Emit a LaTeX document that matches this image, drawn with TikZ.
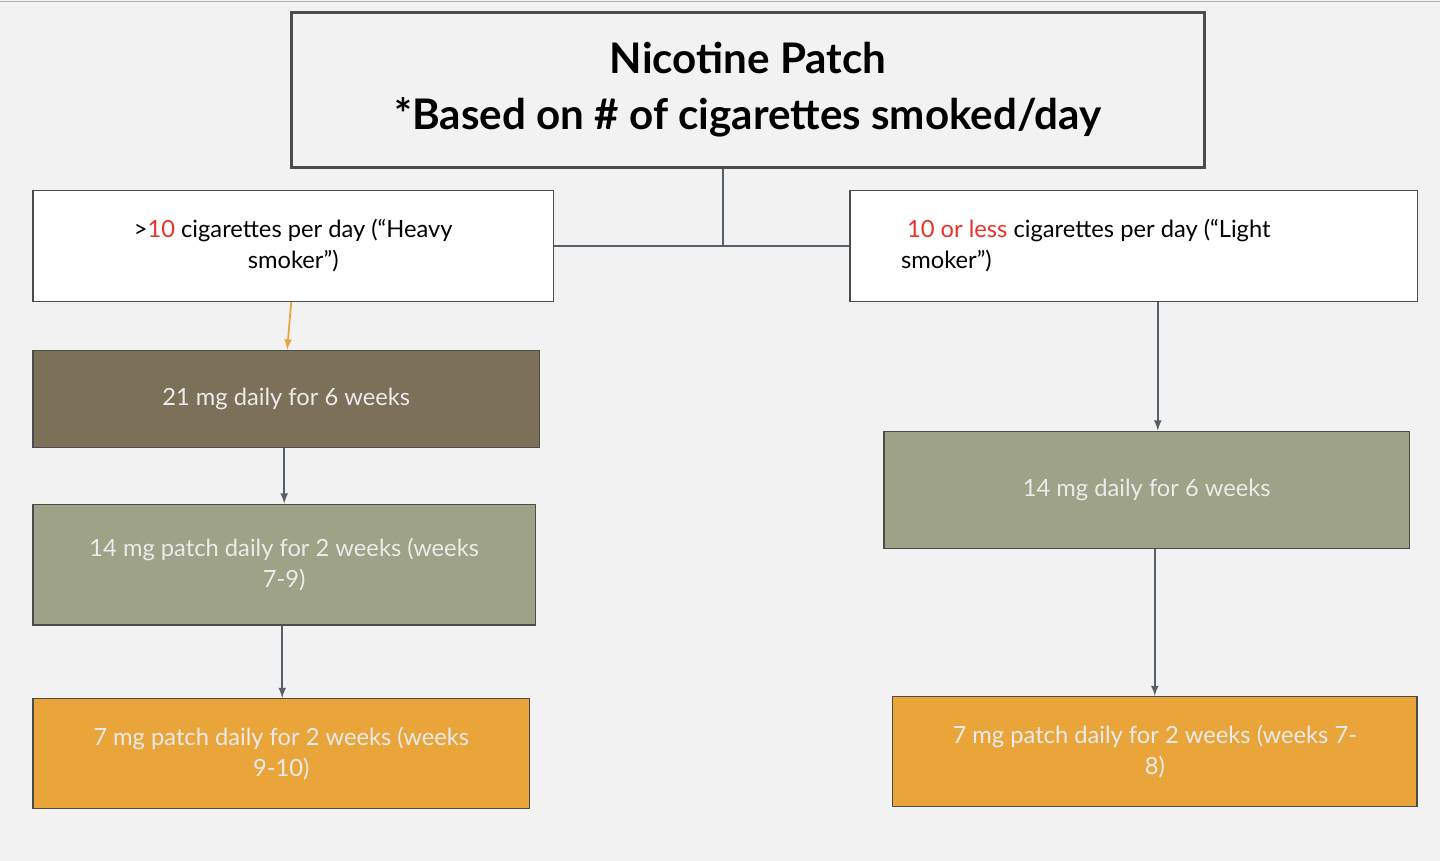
\documentclass[tikz,border=0pt]{standalone}
\usepackage{fontspec}
\setmainfont{Lato}
\usetikzlibrary{positioning}
\definecolor{bgc}{HTML}{F2F2F2}
\definecolor{brownbox}{HTML}{7B7158}
\definecolor{sagebox}{HTML}{9EA287}
\definecolor{orangebox}{HTML}{E9A43A}
\definecolor{linec}{HTML}{56606A}
\definecolor{redtxt}{HTML}{E8332A}
\tikzset{
  plan/.style={draw=black!70, line width=0.8pt, align=center, inner sep=4pt, font=\fontsize{13.5}{17.5}\selectfont},
  dose/.style={plan, text=white!92!black},
  link/.style={->, draw=linec, line width=1pt, >=latex}
}
\begin{document}
\begin{tikzpicture}[x=0.02cm,y=-0.02cm]
   \fill[bgc] (0,0) rectangle (1440,861);
   \draw[gray!60] (0,1) -- (1440,1);
   \node[plan, line width=1.5pt, fill=bgc, minimum width=18.26cm, minimum height=3.1cm, font=\fontsize{24}{32}\selectfont\bfseries] (title) at (748,90)
      {Nicotine Patch\\*Based on \# of cigarettes smoked/day};
   \node[plan, fill=white, minimum width=10.42cm, minimum height=2.22cm] (heavy) at (293,246)
      {>\textcolor{redtxt}{10} cigarettes per day (“Heavy\\smoker”)};
   \node[plan, fill=white, minimum width=11.36cm, minimum height=2.22cm, align=left] (light) at (1134,246)
      {\ \textcolor{redtxt}{10 or less} cigarettes per day (“Light\\smoker”)\hspace*{7.5cm}};
   \node[dose, fill=brownbox, minimum width=10.14cm, minimum height=1.94cm] (hA) at (286,399) {21 mg daily for 6 weeks};
   \node[dose, fill=sagebox, minimum width=10.06cm, minimum height=2.42cm] (hB) at (284,565) {14 mg patch daily for 2 weeks (weeks\\7-9)};
   \node[dose, fill=orangebox, minimum width=9.94cm, minimum height=2.2cm] (hC) at (281,754) {7 mg patch daily for 2 weeks (weeks\\9-10)};
   \node[dose, fill=sagebox, minimum width=10.52cm, minimum height=2.34cm] (lA) at (1147,490) {14 mg daily for 6 weeks};
   \node[dose, fill=orangebox, minimum width=10.5cm, minimum height=2.2cm] (lB) at (1155,752) {7 mg patch daily for 2 weeks (weeks 7-\\8)};
   \coordinate (mid) at (723,246);
   \draw[linec, line width=1pt] (heavy.east) -- (light.west);
   \draw[linec, line width=1pt] (title.south -| mid) -- (mid);
   \draw[link, draw=orangebox] (heavy.south -| 291,0) -- (hA.north -| 287,0);
   \draw[link] (hA.south -| 284,0) -- (hB.north -| 284,0);
   \draw[link] (hB.south -| 282,0) -- (hC.north -| 282,0);
   \draw[link] (light.south -| 1158,0) -- (lA.north -| 1158,0);
   \draw[link] (lA.south -| 1155,0) -- (lB.north -| 1155,0);
\end{tikzpicture}
\end{document}
